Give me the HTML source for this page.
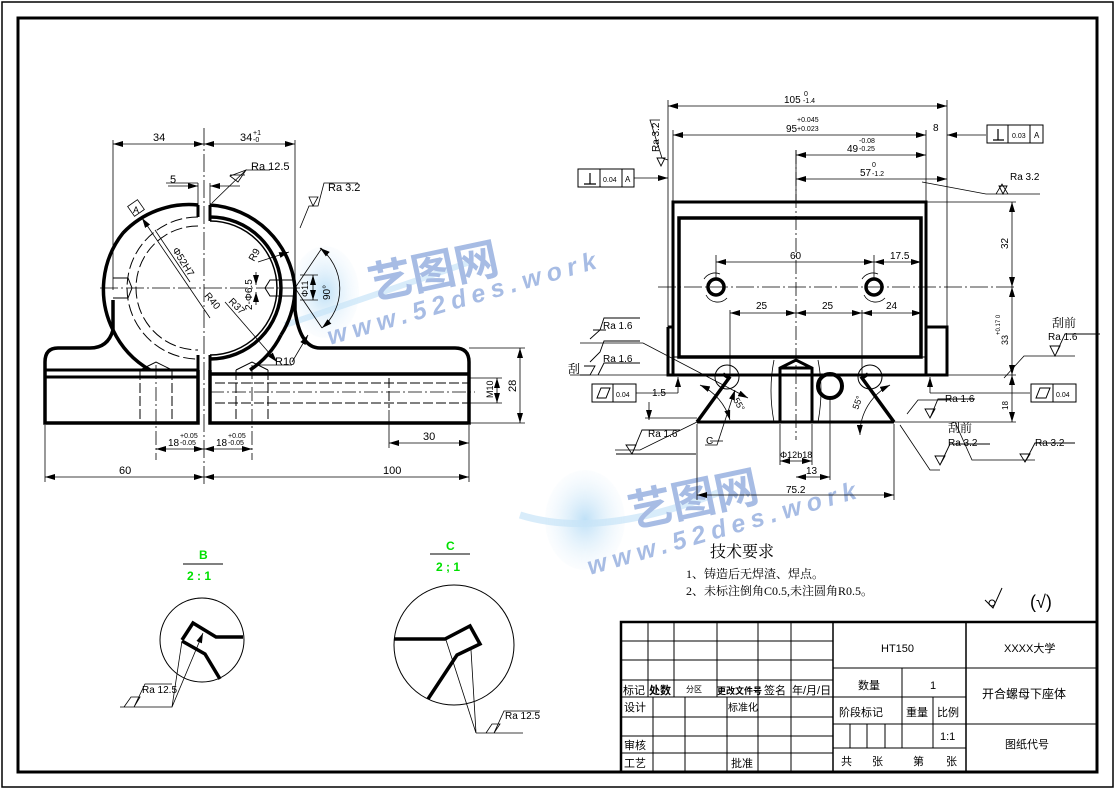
<!DOCTYPE html>
<html><head><meta charset="utf-8"><style>
html,body{margin:0;padding:0;background:#fff;}
svg{display:block;}
text{font-family:"Liberation Sans","Noto Sans CJK SC",sans-serif;fill:#000;}
.cn{font-family:"Liberation Serif","Noto Serif CJK SC","Noto Sans CJK SC",serif;}
</style></head><body>
<svg width="1116" height="790" viewBox="0 0 1116 790" xmlns="http://www.w3.org/2000/svg">
<defs>
<marker id="a" viewBox="0 0 10 6" refX="10" refY="3" markerWidth="10" markerHeight="6" orient="auto-start-reverse" markerUnits="userSpaceOnUse"><path d="M0,0L10,3L0,6z" fill="#000"/></marker>
<radialGradient id="g" cx="50%" cy="50%" r="50%"><stop offset="0" stop-color="#a9d6f4"/><stop offset="1" stop-color="#e6f2fb" stop-opacity="0.2"/></radialGradient>
</defs>
<rect x="0" y="0" width="1116" height="790" fill="#fff"/>
<rect x="2" y="2" width="1111" height="785" fill="none" stroke="#000" stroke-width="1.5"/>
<rect x="18" y="18" width="1079" height="754" fill="none" stroke="#000" stroke-width="3"/>

<!-- ===== watermarks ===== -->
<g opacity="0.75">
<ellipse cx="325" cy="292" rx="34" ry="46" fill="url(#g)"/>
<path d="M285,325 Q360,300 470,262" stroke="#b5dbf5" stroke-width="6" fill="none" opacity="0.7"/>
<text x="372" y="300" transform="rotate(-12 372 300)" font-size="44" font-weight="bold" style="fill:#8aa6db">艺图网</text>
<text x="330" y="345" transform="rotate(-16 330 345)" font-size="25" font-weight="bold" font-style="italic" letter-spacing="6" style="fill:#8aa6db">www.52des.work</text>
<ellipse cx="585" cy="520" rx="40" ry="50" fill="url(#g)"/>
<path d="M520,515 Q600,540 720,492" stroke="#b5dbf5" stroke-width="7" fill="none" opacity="0.7"/>
<text x="632" y="528" transform="rotate(-12 632 528)" font-size="44" font-weight="bold" style="fill:#8aa6db">艺图网</text>
<text x="590" y="575" transform="rotate(-16 590 575)" font-size="25" font-weight="bold" font-style="italic" letter-spacing="6" style="fill:#8aa6db">www.52des.work</text>
</g>

<!-- ===== LEFT VIEW ===== -->
<g stroke="#000" fill="none">
<line x1="204" y1="128" x2="204" y2="485" stroke-width="0.8" stroke-dasharray="18,3,2,3"/>
<line x1="100" y1="288" x2="300" y2="288" stroke-width="0.8" stroke-dasharray="18,3,2,3"/>
<path d="M198,205 A91,91 0 0 0 123,233 M123,233 A91,91 0 0 0 113,330" stroke-width="3.5"/>
<path d="M113,300 L113,330 Q108,348 90,348 L58,348 Q45,348 45,362 L45,423 L198,423 L198,370" stroke-width="3.5"/>
<path d="M113,330 A91,91 0 0 0 150,370" stroke-width="3.5"/>
<path d="M210,205 A91,91 0 0 1 295,288 A91,91 0 0 1 281,335" stroke-width="3.5"/>
<path d="M295,288 L295,310 Q300,348 320,348 L455,348 Q469,348 469,362 L469,423 L210,423 L210,370" stroke-width="3.5"/>
<path d="M281,335 A91,91 0 0 1 250,370" stroke-width="3.5"/>
<line x1="45" y1="370" x2="198" y2="370" stroke-width="3"/>
<line x1="45" y1="377" x2="198" y2="377" stroke-width="3"/>
<line x1="210" y1="374" x2="469" y2="374" stroke-width="3.5"/>
<path d="M210,217 A71,71 0 0 1 210,359" stroke-width="3.5"/>
<path d="M210,221 A66,66 0 0 1 210,355" stroke-width="1.5"/>
<line x1="198" y1="205" x2="198" y2="217" stroke-width="3"/>
<line x1="210" y1="205" x2="210" y2="221" stroke-width="3"/>
<line x1="198" y1="355" x2="198" y2="370" stroke-width="3"/>
<line x1="210" y1="355" x2="210" y2="370" stroke-width="3"/>
<path d="M198,217 A71,71 0 0 0 198,359" stroke-width="1" stroke-dasharray="12,4"/>
<path d="M198,226 A62,62 0 0 0 198,350" stroke-width="1" stroke-dasharray="12,4"/>
<path d="M113,278 L128,278 L132,288 L128,298 L113,298" stroke-width="1"/>
<path d="M295,280 L270,280 L265,288 L270,296 L295,296" stroke-width="1"/>
<g stroke-width="1" stroke-dasharray="10,3">
<line x1="140" y1="370" x2="140" y2="423"/><line x1="172" y1="370" x2="172" y2="423"/>
<line x1="236" y1="370" x2="236" y2="423"/><line x1="268" y1="370" x2="268" y2="423"/>
<line x1="215" y1="383" x2="469" y2="383"/><line x1="215" y1="403" x2="469" y2="403"/>
<line x1="389" y1="378" x2="389" y2="408"/>
</g>
<line x1="156" y1="365" x2="156" y2="460" stroke-width="0.8" stroke-dasharray="14,3,2,3"/>
<line x1="252" y1="365" x2="252" y2="460" stroke-width="0.8" stroke-dasharray="14,3,2,3"/>
<line x1="210" y1="392" x2="475" y2="392" stroke-width="0.8" stroke-dasharray="14,3,2,3"/>
<path d="M140,370 L156,362 L172,370 M236,370 L252,362 L268,370" stroke-width="1"/>
<g stroke-width="0.8">
<line x1="113" y1="140" x2="113" y2="290"/><line x1="295" y1="140" x2="295" y2="290"/>
<line x1="113" y1="144" x2="204" y2="144" marker-start="url(#a)" marker-end="url(#a)"/>
<line x1="204" y1="144" x2="295" y2="144" marker-start="url(#a)" marker-end="url(#a)"/>
<line x1="168" y1="186" x2="198" y2="186" marker-end="url(#a)"/>
<line x1="240" y1="186" x2="210" y2="186" marker-end="url(#a)"/>
<line x1="198" y1="183" x2="198" y2="205"/><line x1="210" y1="183" x2="210" y2="205"/>
<line x1="45" y1="425" x2="45" y2="482"/><line x1="469" y1="425" x2="469" y2="482"/>
<line x1="45" y1="477" x2="204" y2="477" marker-start="url(#a)" marker-end="url(#a)"/>
<line x1="204" y1="477" x2="469" y2="477" marker-start="url(#a)" marker-end="url(#a)"/>
<line x1="156" y1="449" x2="204" y2="449" marker-start="url(#a)" marker-end="url(#a)"/>
<line x1="204" y1="449" x2="252" y2="449" marker-start="url(#a)" marker-end="url(#a)"/>
<line x1="389" y1="410" x2="389" y2="448"/>
<line x1="389" y1="443" x2="469" y2="443" marker-start="url(#a)" marker-end="url(#a)"/>
<line x1="469" y1="348" x2="525" y2="348"/><line x1="469" y1="423" x2="525" y2="423"/>
<line x1="520" y1="348" x2="520" y2="423" marker-start="url(#a)" marker-end="url(#a)"/>
<line x1="469" y1="378" x2="502" y2="378"/><line x1="469" y1="403" x2="502" y2="403"/>
<line x1="497" y1="378" x2="497" y2="403" marker-start="url(#a)" marker-end="url(#a)"/>
<line x1="142" y1="218" x2="210" y2="318" marker-start="url(#a)"/>
<line x1="155" y1="230" x2="190" y2="282"/>
<line x1="225" y1="302" x2="277" y2="362" marker-end="url(#a)"/>
<line x1="258" y1="262" x2="289" y2="252" marker-end="url(#a)"/>
<line x1="256" y1="272" x2="256" y2="285" marker-end="url(#a)"/>
<line x1="256" y1="305" x2="256" y2="292" marker-end="url(#a)"/>
<line x1="300" y1="275" x2="318" y2="275"/><line x1="300" y1="300" x2="318" y2="300"/>
<line x1="313" y1="275" x2="313" y2="300" marker-start="url(#a)" marker-end="url(#a)"/>
<path d="M320,248 A52,52 0 0 1 322,328" marker-start="url(#a)" marker-end="url(#a)"/>
<line x1="295" y1="288" x2="322" y2="248"/><line x1="295" y1="288" x2="322" y2="328"/>
<line x1="292" y1="362" x2="308" y2="335" marker-end="url(#a)"/>
<path d="M258,365 L292,365"/>
<path d="M212,203 L246,170 L270,170" />
<path d="M230,175 L245,175" />
<path d="M300,228 L309,206 L318,206 L324,183 L358,183"/><path d="M309,197 L318,197 L313,206z"/>
<path d="M166,183 L198,183"/>
<rect x="130" y="202" width="12" height="12" transform="rotate(-35 136 208)"/>
</g>
<polygon points="246,170 238,182 230,176" fill="none" stroke="#000" stroke-width="0.8"/>
</g>
<g font-size="11">
<text x="153" y="141">34</text>
<text x="240" y="141">34</text><text x="253" y="135" font-size="7">+1</text><text x="253" y="142" font-size="7">-0</text>
<text x="170" y="183">5</text>
<text x="251" y="170">Ra  12.5</text>
<text x="328" y="191">Ra  3.2</text>
<text x="133" y="213" font-size="9">A</text>
<text x="172" y="250" transform="rotate(58 172 250)" font-size="10">Φ52H7</text>
<text x="204" y="296" transform="rotate(50 204 296)" font-size="10">R40</text>
<text x="228" y="302" transform="rotate(45 228 302)" font-size="10">R37</text>
<text x="254" y="262" transform="rotate(-60 254 262)" font-size="10">R9</text>
<text x="252" y="310" transform="rotate(-90 252 310)" font-size="10">2-Φ6.5</text>
<text x="308" y="297" transform="rotate(-90 308 297)" font-size="9">Φ11</text>
<text x="330" y="300" transform="rotate(-90 330 300)" font-size="10">90°</text>
<text x="275" y="365">R10</text>
<text x="168" y="446" font-size="10">18</text><text x="180" y="438" font-size="7">+0.05</text><text x="180" y="445" font-size="7">-0.05</text>
<text x="216" y="446" font-size="10">18</text><text x="228" y="438" font-size="7">+0.05</text><text x="228" y="445" font-size="7">-0.05</text>
<text x="119" y="474">60</text>
<text x="383" y="474">100</text>
<text x="423" y="440">30</text>
<text x="516" y="392" transform="rotate(-90 516 392)" font-size="11">28</text>
<text x="493" y="398" transform="rotate(-90 493 398)" font-size="9">M10</text>
</g>

<!-- ===== RIGHT VIEW ===== -->
<g stroke="#000" fill="none">
<line x1="796" y1="150" x2="796" y2="440" stroke-width="0.8" stroke-dasharray="14,3,2,3"/>
<line x1="658" y1="287" x2="1015" y2="287" stroke-width="0.8" stroke-dasharray="18,3,2,3"/>
<rect x="673" y="202" width="253" height="173" stroke-width="3"/>
<rect x="679" y="218" width="242" height="139" stroke-width="3.5"/>
<path d="M668,327 L673,327 M668,327 L668,375 L673,375" stroke-width="3"/>
<path d="M926,327 L947,327 L947,375 L926,375" stroke-width="3"/>
<line x1="673" y1="357" x2="926" y2="357" stroke-width="1"/>
<circle cx="716" cy="287" r="8" stroke-width="3.5"/>
<circle cx="874" cy="287" r="8" stroke-width="3.5"/>
<path d="M706,295 A13,13 0 0 0 727,298 M704,279 A13,13 0 0 1 720,274" stroke-width="0.8"/>
<path d="M864,295 A13,13 0 0 0 885,298 M862,279 A13,13 0 0 1 878,274" stroke-width="0.8"/>
<path d="M697,422 L894,422" stroke-width="3"/>
<path d="M697,422 L729,378 L723,374 M894,422 L862,378 L868,374" stroke-width="3.5"/>
<path d="M668,375 L723,375 M868,375 L947,375" stroke-width="3"/>
<circle cx="727" cy="377" r="12" stroke-width="1"/>
<circle cx="870" cy="377" r="12" stroke-width="1"/>
<path d="M780,422 L780,368 L796,360 L812,368 L812,422 M780,368 L812,368" stroke-width="3"/>
<circle cx="830" cy="386" r="12" stroke-width="4"/>
<path d="M774,360 Q768,390 774,422 M818,360 Q824,390 818,422" stroke-width="0.8"/>
<g stroke-width="0.8">
<line x1="668" y1="100" x2="668" y2="327"/><line x1="947" y1="100" x2="947" y2="327"/>
<line x1="673" y1="130" x2="673" y2="202"/><line x1="926" y1="130" x2="926" y2="202"/>
<line x1="796" y1="150" x2="796" y2="202"/>
<line x1="668" y1="106" x2="947" y2="106" marker-start="url(#a)" marker-end="url(#a)"/>
<line x1="673" y1="135" x2="926" y2="135" marker-start="url(#a)" marker-end="url(#a)"/>
<line x1="947" y1="135" x2="986" y2="135" marker-start="url(#a)"/>
<line x1="796" y1="155" x2="926" y2="155" marker-start="url(#a)" marker-end="url(#a)"/>
<line x1="796" y1="179" x2="947" y2="179" marker-start="url(#a)" marker-end="url(#a)"/>
<line x1="634" y1="178" x2="668" y2="178" marker-end="url(#a)"/>
<line x1="716" y1="262" x2="874" y2="262" marker-start="url(#a)" marker-end="url(#a)"/>
<line x1="874" y1="262" x2="921" y2="262" marker-start="url(#a)" marker-end="url(#a)"/>
<line x1="716" y1="255" x2="716" y2="280"/><line x1="874" y1="255" x2="874" y2="280"/>
<line x1="730" y1="313" x2="796" y2="313" marker-start="url(#a)" marker-end="url(#a)"/>
<line x1="796" y1="313" x2="862" y2="313" marker-start="url(#a)" marker-end="url(#a)"/>
<line x1="862" y1="313" x2="922" y2="313" marker-start="url(#a)" marker-end="url(#a)"/>
<line x1="730" y1="310" x2="730" y2="377"/><line x1="862" y1="310" x2="862" y2="377"/>
<line x1="926" y1="202" x2="1016" y2="202"/><line x1="947" y1="375" x2="1016" y2="375"/><line x1="894" y1="422" x2="1016" y2="422"/>
<line x1="1012" y1="202" x2="1012" y2="287" marker-start="url(#a)" marker-end="url(#a)"/>
<line x1="1012" y1="287" x2="1012" y2="375" marker-start="url(#a)" marker-end="url(#a)"/>
<line x1="1012" y1="375" x2="1012" y2="422" marker-start="url(#a)" marker-end="url(#a)"/>
<line x1="697" y1="424" x2="697" y2="500"/><line x1="894" y1="424" x2="894" y2="500"/>
<line x1="697" y1="495" x2="894" y2="495" marker-start="url(#a)" marker-end="url(#a)"/>
<line x1="780" y1="424" x2="780" y2="465"/><line x1="812" y1="424" x2="812" y2="465"/>
<line x1="780" y1="461" x2="812" y2="461" marker-start="url(#a)" marker-end="url(#a)"/>
<line x1="796" y1="477" x2="830" y2="477" marker-start="url(#a)" marker-end="url(#a)"/>
<line x1="830" y1="398" x2="830" y2="480"/>
<line x1="678" y1="393" x2="678" y2="377" marker-end="url(#a)"/>
<line x1="636" y1="393" x2="678" y2="393"/>
<line x1="649" y1="402" x2="649" y2="420" marker-end="url(#a)"/>
<line x1="645" y1="418" x2="697" y2="418"/>
<line x1="930" y1="393" x2="930" y2="377" marker-end="url(#a)"/>
<line x1="930" y1="393" x2="1030" y2="393"/>
<path d="M700,385 A55,55 0 0 1 730,420" marker-start="url(#a)" marker-end="url(#a)"/>
<path d="M890,385 A55,55 0 0 0 860,435" marker-start="url(#a)" marker-end="url(#a)"/>
<path d="M735,390 L717,445 L705,445" marker-start="url(#a)"/>
<path d="M580,343 L643,343 L748,398" marker-end="url(#a)"/>
<path d="M668,160 L662,158 L650,120 L660,120" />
<path d="M922,182 L986,194 L1040,194"/>
<path d="M996,194 L1002,184 L1008,194" />
<path d="M570,375 L668,375"/>
<path d="M1004,378 L1024,356 L1075,356"/>
<path d="M907,414 L918,400 L950,400"/>
<path d="M900,425 L930,470 L940,470"/>
<path d="M955,422 L972,460 L1035,460"/>
<path d="M697,422 L640,450 L615,450"/>
<path d="M710,441 L723,441"/>
</g>
<rect x="578" y="169" width="56" height="18" stroke-width="1"/><line x1="600" y1="169" x2="600" y2="187" stroke-width="1"/><line x1="622" y1="169" x2="622" y2="187" stroke-width="1"/>
<rect x="987" y="125" width="56" height="18" stroke-width="1"/><line x1="1008" y1="125" x2="1008" y2="143" stroke-width="1"/><line x1="1030" y1="125" x2="1030" y2="143" stroke-width="1"/>
<rect x="592" y="384" width="44" height="18" stroke-width="1"/><line x1="613" y1="384" x2="613" y2="402" stroke-width="1"/>
<rect x="1031" y="384" width="45" height="18" stroke-width="1"/><line x1="1053" y1="384" x2="1053" y2="402" stroke-width="1"/>
<path d="M584,184 L596,184 M590,184 L590,173 M993,140 L1004,140 M998,140 L998,129" stroke-width="1.2"/>
<path d="M597,398 L601,388 L610,388 L606,398z M1036,398 L1040,388 L1050,388 L1046,398z" stroke-width="1"/>
</g>
<g stroke="#000" fill="none" stroke-width="0.9">
<path d="M590,339 L600,330 L604,318 L640,318 M593,330 L606,330"/>
<path d="M590,362 L600,352 L604,341 L640,341"/>
<path d="M580,375 L590,375 M584,366 L595,366 L590,375"/>
<path d="M598,375 L604,363 L640,363"/>
<path d="M626,445 L636,445 L632,454z M632,454 L642,430 L680,430"/>
<path d="M616,454 L696,454"/>
<path d="M1050,346 L1060,346 L1055,356z M1055,356 L1065,334 L1100,334"/>
<path d="M925,409 L935,409 L930,418z M930,418 L938,399 L975,399"/>
<path d="M935,456 L945,456 L940,465z M940,465 L950,444 L990,444"/>
<path d="M1020,454 L1030,454 L1025,462z M1025,462 L1035,443 L1075,443"/>
<path d="M999,186 L1007,186 L1003,194z"/>
<path d="M657,158 L665,158 L661,166z"/>
</g>
<g font-size="10">
<text x="784" y="103">105</text><text x="804" y="96" font-size="7">0</text><text x="803" y="103" font-size="7">-1.4</text>
<text x="786" y="132">95</text><text x="797" y="122" font-size="7">+0.045</text><text x="797" y="131" font-size="7">+0.023</text>
<text x="933" y="131">8</text>
<text x="847" y="152">49</text><text x="859" y="143" font-size="7">-0.08</text><text x="859" y="151" font-size="7">-0.25</text>
<text x="860" y="176">57</text><text x="872" y="167" font-size="7">0</text><text x="872" y="176" font-size="7">-1.2</text>
<text x="790" y="259">60</text><text x="890" y="259">17.5</text>
<text x="756" y="309">25</text><text x="822" y="309">25</text><text x="886" y="309">24</text>
<text x="1008" y="249" transform="rotate(-90 1008 249)">32</text>
<text x="1008" y="345" transform="rotate(-90 1008 345)" font-size="9">33</text>
<text x="1000" y="335" transform="rotate(-90 1000 335)" font-size="6">+0.17 0</text>
<text x="1008" y="410" transform="rotate(-90 1008 410)" font-size="8">18</text>
<text x="603" y="329">Ra  1.6</text>
<text x="603" y="362">Ra  1.6</text>
<text x="648" y="437">Ra  1.6</text>
<text x="1048" y="340">Ra  1.6</text>
<text x="1010" y="180">Ra  3.2</text>
<text x="945" y="402">Ra  1.6</text>
<text x="948" y="446">Ra  3.2</text>
<text x="1035" y="446">Ra  3.2</text>
<text x="659" y="152" transform="rotate(-90 659 152)">Ra  3.2</text>
<text x="652" y="396">1.5</text>
<text x="706" y="444">C</text>
<text x="780" y="458" font-size="9">Φ12b18</text>
<text x="806" y="474">13</text>
<text x="786" y="493">75.2</text>
<text x="733" y="400" transform="rotate(60 733 400)" font-size="9">55°</text>
<text x="858" y="410" transform="rotate(-70 858 410)" font-size="9">55°</text>
<text x="603" y="182" font-size="7">0.04</text><text x="625" y="182" font-size="8">A</text>
<text x="1012" y="138" font-size="7">0.03</text><text x="1034" y="138" font-size="8">A</text>
<text x="616" y="397" font-size="7">0.04</text>
<text x="1056" y="397" font-size="7">0.04</text>
<text x="1052" y="327" class="cn" font-size="12">刮前</text>
<text x="568" y="373" class="cn" font-size="12">刮</text>
<text x="948" y="432" class="cn" font-size="12">刮前</text>
</g>

<!-- ===== DETAILS ===== -->
<g stroke="#000" fill="none">
<circle cx="202" cy="640" r="42" stroke-width="1"/>
<path d="M182,640 L193,623 L216,637 L243,637" stroke-width="3.5"/>
<path d="M182,641 L205,654 L220,679" stroke-width="3.5"/>
<path d="M120,707 L172,707 L182,641 M172,707 L203,633" stroke-width="0.8" marker-end="url(#a)"/>
<path d="M124,707 L131,697 L140,697 L134,707 M134,707 L145,684 L172,684" stroke-width="0.8"/>
<circle cx="454" cy="645" r="60" stroke-width="1"/>
<path d="M394,639 L445,639 L470,626 L480,644 L457,655 L428,699" stroke-width="3.5"/>
<path d="M476,733 L446,640 M476,733 L471,650 M476,733 L523,733" stroke-width="0.8"/>
<path d="M486,733 L492,724 L500,724 L494,733 M494,733 L504,711 L540,711" stroke-width="0.8"/>
<line x1="183" y1="564" x2="223" y2="564" stroke-width="1"/>
<line x1="430" y1="554" x2="470" y2="554" stroke-width="1"/>
</g>
<g font-size="10"><text x="142" y="693">Ra  12.5</text><text x="505" y="719">Ra  12.5</text></g>
<g font-family="Liberation Mono" font-weight="bold" font-size="12">
<text x="199" y="559" style="fill:#00e000">B</text><text x="187" y="580" style="fill:#00e000">2 : 1</text>
<text x="446" y="550" style="fill:#00e000">C</text><text x="436" y="571" style="fill:#00e000">2 ; 1</text>
</g>

<text x="710" y="557" font-size="16" class="cn">技术要求</text>
<text x="686" y="578" font-size="12" class="cn">1、铸造后无焊渣、焊点。</text>
<text x="686" y="595" font-size="12" class="cn">2、未标注倒角C0.5,未注圆角R0.5。</text>
<path d="M985,600 L993,608 L1002,588" stroke="#000" fill="none" stroke-width="1"/>
<circle cx="992" cy="603" r="3" fill="none" stroke="#000" stroke-width="1"/>
<text x="1030" y="608" font-size="18">(√)</text>

<!-- ===== TITLE BLOCK ===== -->
<g stroke="#000" fill="none" stroke-width="1">
<rect x="621" y="622" width="476" height="150" stroke-width="2.5"/>
<line x1="833" y1="622" x2="833" y2="772" stroke-width="1.5"/>
<line x1="966" y1="622" x2="966" y2="772" stroke-width="1.5"/>
<path d="M621,641 H833 M621,660 H833 M621,680 H833 M621,697 H833 M621,717 H833 M621,736 H833 M621,753 H833"/>
<path d="M648,622 V697 M674,622 V697 M717,622 V697 M758,622 V697 M791,622 V772"/>
<path d="M653,697 V772 M685,697 V772 M727,697 V772 M758,697 V772"/>
<path d="M833,668 H1097 M833,697 H966 M833,724 H1097 M833,748 H966"/>
<path d="M902,668 V748 M933,697 V748 M850,724 V748 M867,724 V748 M885,724 V748"/>
</g>
<g class="cn" font-size="11">
<text x="623" y="694">标记</text><text x="649" y="694" font-weight="bold">处数</text><text x="686" y="692" font-size="8">分区</text>
<text x="717" y="694" font-weight="bold" font-size="9">更改文件号</text><text x="764" y="694">签名</text><text x="792" y="694">年/月/日</text>
<text x="624" y="711">设计</text><text x="728" y="711" font-size="10">标准化</text>
<text x="624" y="749">审核</text><text x="624" y="767">工艺</text><text x="731" y="767">批准</text>
<text x="881" y="652" font-family="Liberation Serif">HT150</text>
<text x="1004" y="652" font-family="Liberation Serif">XXXX大学</text>
<text x="858" y="689">数量</text><text x="930" y="689">1</text>
<text x="982" y="698" font-size="12">开合螺母下座体</text>
<text x="839" y="716">阶段标记</text><text x="906" y="716">重量</text><text x="937" y="716">比例</text>
<text x="940" y="740">1:1</text>
<text x="1005" y="748">图纸代号</text>
<text x="841" y="765">共</text><text x="872" y="765">张</text><text x="913" y="765">第</text><text x="946" y="765">张</text>
</g>
</svg>
</body></html>
